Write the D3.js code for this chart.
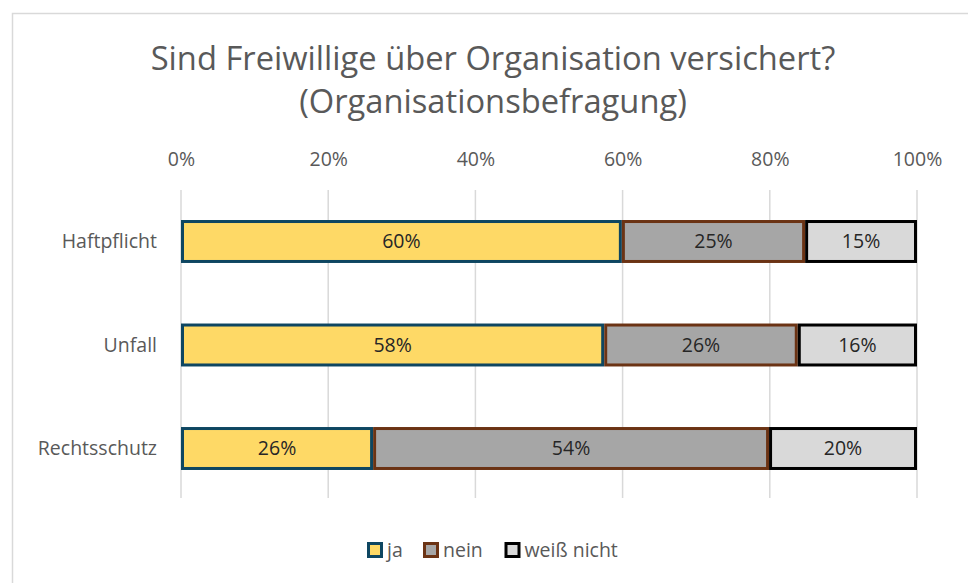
<!DOCTYPE html>
<html>
  <head>
    <meta charset="utf-8">
    <script src="https://d3js.org/d3.v7.min.js"></script>
    <style>
      body { margin: 0; background: white; }
      text { font-family: "Open Sans", sans-serif; }
    </style>
  </head>
  <body>
    <div id="chart"></div>
    <script>
      // data (shares in %, labels show the rounded value)
      const categories = ['Haftpflicht', 'Unfall', 'Rechtsschutz']
      const seriesNames = ['ja', 'nein', 'weiß nicht']
      const ja = [59.9, 57.5, 26.1]
      const nein = [24.9, 26.3, 53.8]
      const weissNicht = [15.2, 16.2, 20.1]
      const tickValues = [0, 20, 40, 60, 80, 100]

      const fills = ['#fed966', '#a6a6a6', '#d9d9d9']
      const strokes = ['#0e4661', '#6b3314', '#000000']

      const W = 968, H = 583
      const fontSize = 19.5

      const svg = d3.select('#chart').append('svg')
        .attr('width', W).attr('height', H)

      // chart frame
      svg.append('rect')
        .attr('x', 12.5).attr('y', 13.5)
        .attr('width', 970).attr('height', 590)
        .attr('fill', 'white').attr('stroke', '#d9d9d9').attr('stroke-width', 1.5)

      // title (size fitted to the width of the original line)
      const title = svg.append('text')
        .attr('text-anchor', 'middle')
        .attr('fill', '#595959')
        .style('font-size', '30px')
      const t1 = title.append('tspan').attr('x', 493).attr('y', 70).text('Sind Freiwillige über Organisation versichert?')
      title.append('tspan').attr('x', 493).attr('y', 113).text('(Organisationsbefragung)')
      const len = t1.node().getComputedTextLength()
      title.style('font-size', (30 * 685 / len) + 'px')

      const x = d3.scaleLinear().domain([0, 100]).range([181, 917])
      const y = d3.scaleBand().domain(categories).range([190, 500])
        .paddingInner(0.585).paddingOuter(0.29)

      // gridlines
      svg.append('g').selectAll('line')
        .data(tickValues)
        .join('line')
          .attr('x1', d => x(d)).attr('x2', d => x(d))
          .attr('y1', 190).attr('y2', 498)
          .attr('stroke', '#d9d9d9').attr('stroke-width', 1.5)

      // top axis labels
      const xAxis = d3.axisTop(x).tickValues(tickValues)
        .tickFormat(d => d + '%').tickSize(0).tickPadding(0)
      const gx = svg.append('g').attr('transform', 'translate(0,166)').call(xAxis)
      gx.select('.domain').remove()
      gx.selectAll('text')
        .attr('fill', '#595959')
        .style('font-size', fontSize + 'px')
        .style('font-family', '"Open Sans", sans-serif')

      // category labels
      svg.append('g').selectAll('text')
        .data(categories)
        .join('text')
          .attr('x', 157)
          .attr('y', d => y(d) + y.bandwidth() / 2)
          .attr('dy', '0.35em')
          .attr('text-anchor', 'end')
          .attr('fill', '#595959')
          .style('font-size', fontSize + 'px')
          .text(d => d)

      // stacked data
      const rows = categories.map((c, i) => ({cat: c, 'ja': ja[i], 'nein': nein[i], 'weiß nicht': weissNicht[i]}))
      const stacked = d3.stack().keys(seriesNames)(rows)

      const layers = svg.append('g').selectAll('g')
        .data(stacked)
        .join('g')
          .attr('fill', (d, i) => fills[i])
          .attr('stroke', (d, i) => strokes[i])

      layers.selectAll('rect')
        .data(d => d)
        .join('rect')
          .attr('x', d => x(d[0]) + 1.5)
          .attr('y', d => y(d.data.cat) + 1.5)
          .attr('width', d => x(d[1]) - x(d[0]) - 3)
          .attr('height', y.bandwidth() - 3)
          .attr('stroke-width', 3)

      layers.selectAll('text')
        .data(d => d)
        .join('text')
          .attr('x', d => (x(d[0]) + x(d[1])) / 2)
          .attr('y', d => y(d.data.cat) + y.bandwidth() / 2)
          .attr('dy', '0.35em')
          .attr('text-anchor', 'middle')
          .attr('fill', '#262626')
          .attr('stroke', 'none')
          .style('font-size', fontSize + 'px')
          .text(d => Math.round(d[1] - d[0]) + '%')

      // legend
      const legendX = [375, 431, 512.5]
      const lg = svg.append('g').selectAll('g')
        .data(seriesNames)
        .join('g')
          .attr('transform', (d, i) => `translate(${legendX[i]},550)`)
      lg.append('rect')
        .attr('x', -6.5).attr('y', -6.5).attr('width', 13).attr('height', 13)
        .attr('fill', (d, i) => fills[i])
        .attr('stroke', (d, i) => strokes[i])
        .attr('stroke-width', 3)
      lg.append('text')
        .attr('x', 12).attr('dy', '0.35em')
        .attr('fill', '#595959')
        .style('font-size', fontSize + 'px')
        .text(d => d)
    </script>
  </body>
</html>
